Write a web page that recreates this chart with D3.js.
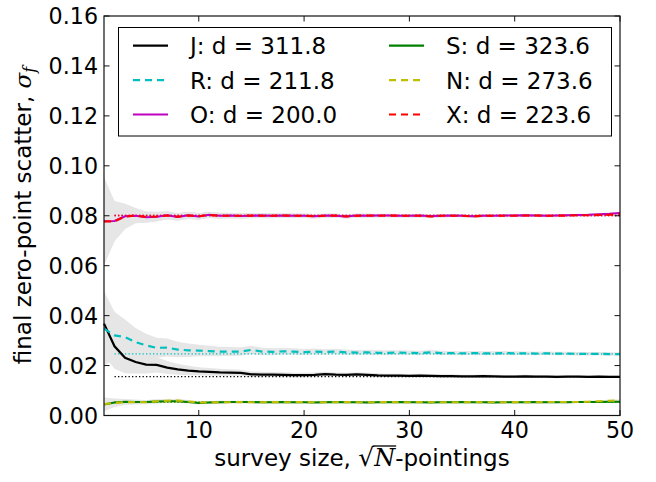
<!DOCTYPE html>
<html><head><meta charset="utf-8">
<script src="https://cdn.jsdelivr.net/npm/d3@7"></script>
<style>body{margin:0;background:#fff}svg{display:block}</style>
</head><body>
<svg id="c" width="656" height="482"></svg>
<script>
const sizes = [1,2,3,4,5,6,7,8,9,10,11,12,13,14,15,16,17,18,19,20,21,22,23,24,25,26,27,28,29,30,31,32,33,34,35,36,37,38,39,40,41,42,43,44,45,46,47,48,49,50];
const xTicks = [10,20,30,40,50];
const yTicks = [0,0.02,0.04,0.06,0.08,0.10,0.12,0.14,0.16];
const names = ["J: d = 311.8","R: d = 211.8","O: d = 200.0","S: d = 323.6","N: d = 273.6","X: d = 223.6"];
const colors = ["#000000","#00bfbf","#bf00bf","#008000","#bfbf00","#ff0000"];
const dashed = [false,true,false,false,true,true];
const refs = [0.0156,0.0247,0.0801,0.0053,0.0054,0.0801];

const J = [0.0368,0.0277,0.0231,0.0214,0.0204,0.0203,0.0192,0.0185,0.0180,0.0177,
0.0175,0.0173,0.0172,0.0171,0.0165,0.0164,0.0164,0.0163,0.0162,0.0162,
0.0163,0.0166,0.0164,0.0163,0.0165,0.0163,0.0161,0.0160,0.0160,0.0159,
0.0160,0.0159,0.0158,0.0158,0.0157,0.0157,0.0158,0.0157,0.0156,0.0156,
0.0157,0.0156,0.0156,0.0155,0.0156,0.0156,0.0155,0.0156,0.0155,0.0155];
const R = [0.0348,0.0321,0.0314,0.0294,0.0281,0.0271,0.0272,0.0264,0.0261,0.0260,
0.0258,0.0256,0.0256,0.0256,0.0263,0.0256,0.0255,0.0257,0.0256,0.0254,
0.0256,0.0254,0.0256,0.0253,0.0252,0.0253,0.0251,0.0251,0.0252,0.0251,
0.0250,0.0253,0.0250,0.0250,0.0249,0.0250,0.0249,0.0249,0.0250,0.0249,
0.0249,0.0248,0.0249,0.0248,0.0248,0.0247,0.0247,0.0247,0.0246,0.0246];
const O = [0.0778,0.0779,0.0798,0.0800,0.0794,0.0796,0.0802,0.0795,0.0802,0.0797,
0.0804,0.0800,0.0801,0.0799,0.0800,0.0801,0.0800,0.0801,0.0800,0.0800,
0.0798,0.0801,0.0800,0.0797,0.0801,0.0800,0.0801,0.0801,0.0800,0.0800,
0.0801,0.0798,0.0800,0.0801,0.0800,0.0798,0.0800,0.0800,0.0801,0.0801,
0.0802,0.0801,0.0800,0.0801,0.0802,0.0803,0.0804,0.0806,0.0808,0.0811];
const S = [0.0044,0.0052,0.0055,0.0054,0.0054,0.0056,0.0057,0.0057,0.0054,0.0050,
0.0052,0.0053,0.0054,0.0054,0.0054,0.0053,0.0053,0.0054,0.0053,0.0053,
0.0052,0.0053,0.0054,0.0053,0.0053,0.0052,0.0053,0.0053,0.0054,0.0053,
0.0053,0.0052,0.0053,0.0053,0.0054,0.0053,0.0053,0.0052,0.0053,0.0053,
0.0053,0.0054,0.0053,0.0053,0.0053,0.0054,0.0054,0.0054,0.0055,0.0055];
const N = [0.0046,0.0050,0.0053,0.0054,0.0053,0.0057,0.0059,0.0060,0.0056,0.0052,
0.0052,0.0053,0.0053,0.0054,0.0053,0.0053,0.0054,0.0053,0.0053,0.0054,
0.0053,0.0053,0.0053,0.0054,0.0053,0.0053,0.0053,0.0054,0.0053,0.0053,
0.0054,0.0053,0.0053,0.0053,0.0053,0.0054,0.0053,0.0053,0.0053,0.0054,
0.0053,0.0053,0.0054,0.0054,0.0054,0.0054,0.0055,0.0057,0.0059,0.0060];
const X = [0.0777,0.0778,0.0797,0.0801,0.0795,0.0797,0.0801,0.0796,0.0801,0.0798,
0.0803,0.0800,0.0800,0.0800,0.0801,0.0800,0.0800,0.0801,0.0800,0.0800,
0.0798,0.0800,0.0801,0.0797,0.0800,0.0801,0.0800,0.0801,0.0800,0.0800,
0.0800,0.0797,0.0800,0.0800,0.0800,0.0797,0.0800,0.0800,0.0800,0.0800,
0.0801,0.0801,0.0800,0.0800,0.0801,0.0802,0.0802,0.0803,0.0804,0.0805];

const errJ = [0.0130,0.0090,0.0062,0.0046,0.0036,0.0031,0.0026,0.0022,0.0019,0.0016,
0.0015,0.0014,0.0013,0.0012,0.0011,0.0011,0.0010,0.0010,0.0009,0.0009,
0.0009,0.0009,0.0008,0.0008,0.0008,0.0008,0.0008,0.0007,0.0007,0.0007,
0.0007,0.0007,0.0007,0.0007,0.0006,0.0006,0.0006,0.0006,0.0006,0.0006,
0.0006,0.0006,0.0006,0.0006,0.0005,0.0005,0.0005,0.0005,0.0005,0.0005];
const errR = [0.0150,0.0095,0.0070,0.0056,0.0046,0.0040,0.0036,0.0031,0.0027,0.0023,
0.0021,0.0019,0.0018,0.0017,0.0016,0.0015,0.0014,0.0013,0.0013,0.0012,
0.0012,0.0011,0.0011,0.0011,0.0010,0.0010,0.0010,0.0010,0.0009,0.0009,
0.0009,0.0009,0.0009,0.0008,0.0008,0.0008,0.0008,0.0008,0.0008,0.0008,
0.0007,0.0007,0.0007,0.0007,0.0007,0.0007,0.0007,0.0007,0.0007,0.0007];
const errO = [0.0175,0.0080,0.0050,0.0030,0.0022,0.0019,0.0016,0.0015,0.0014,0.0013,
0.0012,0.0012,0.0011,0.0011,0.0010,0.0010,0.0010,0.0009,0.0009,0.0009,
0.0009,0.0008,0.0008,0.0008,0.0008,0.0008,0.0007,0.0007,0.0007,0.0007,
0.0007,0.0007,0.0007,0.0006,0.0006,0.0006,0.0006,0.0006,0.0006,0.0006,
0.0006,0.0006,0.0006,0.0006,0.0005,0.0005,0.0005,0.0005,0.0005,0.0005];
const errS = [0.0027,0.0016,0.0011,0.0009,0.0008,0.0008,0.0007,0.0007,0.0006,0.0006,
0.0006,0.0006,0.0005,0.0005,0.0005,0.0005,0.0005,0.0005,0.0005,0.0004,
0.0004,0.0004,0.0004,0.0004,0.0004,0.0004,0.0004,0.0004,0.0004,0.0004,
0.0004,0.0004,0.0004,0.0004,0.0004,0.0004,0.0004,0.0004,0.0004,0.0004,
0.0004,0.0004,0.0004,0.0004,0.0004,0.0004,0.0004,0.0004,0.0004,0.0004];
const errN = errS;
const errX = errO;

const series = [J,R,O,S,N,X];
const errs = [errJ,errR,errO,errS,errN,errX];
const order = [0,1,2,3,4,5];

const svg = d3.select("#c");
const FS = 22.2;   // tick labels
const LFS = 23;    // axis labels & legend
const x = d3.scaleLinear().domain([1,50]).range([104,620]);
const y = d3.scaleLinear().domain([0,0.16]).range([415.5,16]);

svg.append("rect").attr("width",656).attr("height",482).attr("fill","#fff");

// bands
const area = d3.area().x((d,i)=>x(sizes[i])).y0(d=>y(d[0]-d[1])).y1(d=>y(d[0]+d[1]));
order.forEach(k=>{
  const dat = series[k].map((v,i)=>[v,errs[k][i]]);
  svg.append("path").attr("d",area(dat)).attr("fill","#e6e6e6").attr("stroke","none");
});

// dotted reference lines
order.forEach(k=>{
  svg.append("line").attr("x1",x(2)).attr("x2",x(50)).attr("y1",y(refs[k])).attr("y2",y(refs[k]))
    .attr("stroke",colors[k]).attr("stroke-width",1.3).attr("stroke-dasharray","1.3,2.2");
});

// series lines
const line = d3.line().x((d,i)=>x(sizes[i])).y(d=>y(d));
order.forEach(k=>{
  svg.append("path").attr("d",line(series[k])).attr("fill","none")
    .attr("stroke",colors[k]).attr("stroke-width",2.2)
    .attr("stroke-dasharray",dashed[k]?"7,5":null);
});

// frame
svg.append("rect").attr("x",104).attr("y",16).attr("width",516).attr("height",399.5)
  .attr("fill","none").attr("stroke","#111").attr("stroke-width",1.2);

// ticks
const TL = 5.5;
const g = svg.append("g").attr("stroke","#111").attr("stroke-width",1);
xTicks.forEach(t=>{
  g.append("line").attr("x1",x(t)).attr("x2",x(t)).attr("y1",415.5).attr("y2",415.5-TL);
  g.append("line").attr("x1",x(t)).attr("x2",x(t)).attr("y1",16).attr("y2",16+TL);
});
yTicks.forEach(t=>{
  g.append("line").attr("x1",104).attr("x2",104+TL).attr("y1",y(t)).attr("y2",y(t));
  g.append("line").attr("x1",620).attr("x2",620-TL).attr("y1",y(t)).attr("y2",y(t));
});

const txt = svg.append("g").attr("font-family","DejaVu Sans").attr("font-size",FS).attr("fill","#000");
xTicks.forEach(t=>{
  txt.append("text").attr("x",x(t)).attr("y",438).attr("text-anchor","middle").text(d3.format("d")(t));
});
yTicks.forEach(t=>{
  txt.append("text").attr("x",98).attr("y",y(t)+8).attr("text-anchor","end").text(d3.format(".2f")(t));
});

// x label
const xl = txt.append("text").attr("x",362).attr("y",466).attr("text-anchor","middle").attr("font-size",LFS);
xl.append("tspan").text("survey size, ");
xl.append("tspan").attr("font-family","DejaVu Sans").attr("font-size",25).text("\u221A");
xl.append("tspan").attr("font-family","DejaVu Serif").attr("font-style","italic").attr("font-size",24).text("N");
xl.append("tspan").text("-pointings");
const n = xl.node();
const e1 = n.getExtentOfChar(13), e2 = n.getExtentOfChar(14);
svg.append("line").attr("x1",e1.x+e1.width-1).attr("x2",e2.x+e2.width+1)
  .attr("y1",466-25*0.80).attr("y2",466-25*0.80).attr("stroke","#000").attr("stroke-width",1.3);

// y label
const yl = txt.append("text").attr("transform","translate(31,215.5) rotate(-90)").attr("text-anchor","middle").attr("font-size",LFS);
yl.append("tspan").text("final zero-point scatter, ");
yl.append("tspan").attr("font-family","DejaVu Serif").attr("font-style","italic").text("\u03C3");
yl.append("tspan").attr("font-family","DejaVu Serif").attr("font-style","italic").attr("font-size",16).attr("dy",4).text("f");

// legend
const leg = svg.append("g");
leg.append("rect").attr("x",118.5).attr("y",27.5).attr("width",493).attr("height",108.5)
  .attr("fill","#fff").attr("stroke","#000").attr("stroke-width",1);
const rowY = [45.7,80.2,114.5];
const colX = [133,389];
const legOrder = [0,1,2,3,4,5];
legOrder.forEach((k,i)=>{
  const c = Math.floor(i/3), r = i%3;
  leg.append("line").attr("x1",colX[c]).attr("x2",colX[c]+35).attr("y1",rowY[r]).attr("y2",rowY[r])
    .attr("stroke",colors[k]).attr("stroke-width",2.2).attr("stroke-dasharray",dashed[k]?"7,5":null);
  leg.append("text").attr("x",colX[c]+57).attr("y",rowY[r]+8.5)
    .attr("font-family","DejaVu Sans").attr("font-size",LFS).attr("fill","#000").text(names[k]);
});
</script>
</body></html>
